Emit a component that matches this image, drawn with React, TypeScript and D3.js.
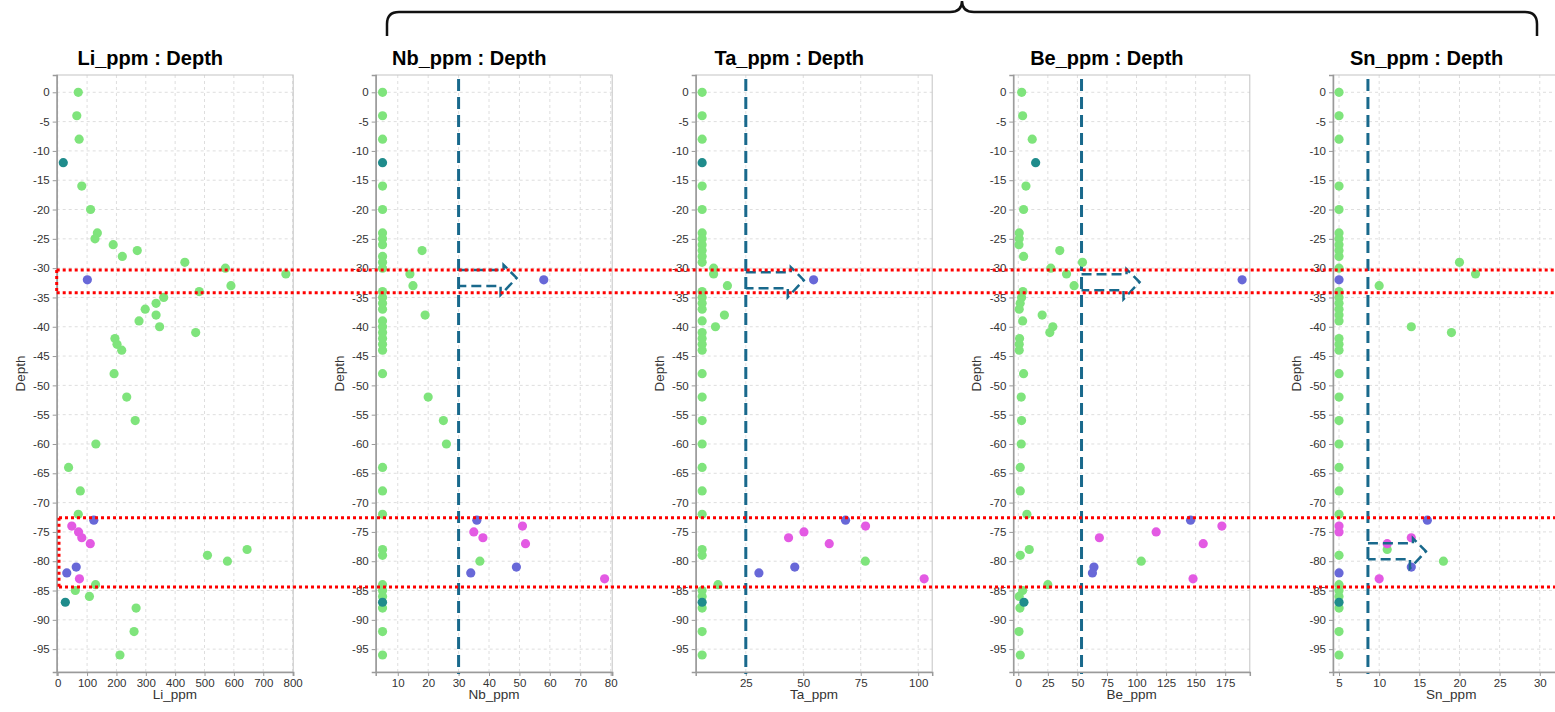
import React, { useRef, useEffect } from "react";
import * as d3 from "d3";

// sample depths, same for every panel
const depths = [
  0, -4, -8, -12, -16, -20, -24, -25, -26, -27, -28, -29, -30, -31, -32, -33,
  -34, -35, -36, -37, -38, -39, -40, -41, -42, -43, -44, -48, -52, -56, -60,
  -64, -68, -72, -73, -74, -75, -76, -77, -78, -79, -80, -81, -82, -83, -84,
  -85, -86, -87, -88, -92, -96,
];

// g = green, t = teal, b = blue, m = magenta
const groups = [
  "g", "g", "g", "t", "g", "g", "g", "g", "g", "g", "g", "g", "g", "g", "b", "g",
  "g", "g", "g", "g", "g", "g", "g", "g", "g", "g", "g", "g", "g", "g", "g",
  "g", "g", "g", "b", "m", "m", "m", "m", "g", "g", "g", "b", "b", "m", "g",
  "g", "g", "t", "g", "g", "g",
];

const liPpm = [
  70, 65, 73, 19, 82, 112, 135, 127, 189, 271, 220, 433, 571, 777, 101, 590,
  482, 361, 335, 298, 335, 277, 347, 470, 195, 202, 218, 192, 235, 264, 130,
  37, 77, 70, 123, 48, 71, 82, 111, 645, 510, 578, 63, 31, 74, 129,
  60, 108, 26, 267, 260, 212,
];
const nbPpm = [
  5, 5, 5, 5, 5, 5, 5, 5, 5, 18, 5, 5, 5, 14, 58, 15,
  5, 5, 5, 5, 19, 5, 5, 5, 5, 5, 5, 5, 20, 25, 26,
  5, 5, 5, 36, 51, 35, 38, 52, 5, 5, 37, 49, 34, 78, 5,
  5, 5, 5, 5, 5, 5,
];
const taPpm = [
  6, 6, 6, 6, 6, 6, 6, 6, 6, 6, 6, 6, 11, 11, 54.5, 17,
  6, 6, 6, 6, 15.7, 6, 11.8, 6, 6, 6, 6, 6, 6, 6, 6,
  6, 6, 6, 68.4, 77.1, 50.3, 43.6, 61.3, 6, 6, 77, 46.3, 30.7, 102.6, 12.9,
  6, 6, 6, 6, 6, 6,
];
const bePpm = [
  2.9, 3.7, 11.8, 14.7, 6.5, 4.5, 0.8, 0.8, 0.6, 35.1, 4.5, 54.3, 27.5, 40.8, 189.3, 47.2,
  3.9, 2.8, 1.6, 0.8, 20.2, 3.7, 29.2, 26.7, 1.1, 0.8, 0.8, 4.5, 2.5, 2.8, 2.5,
  1.7, 1.7, 7.3, 145.7, 172.2, 116.6, 68.6, 156.4, 9.3, 1.7, 104, 64, 62.7, 147.8, 25,
  3.7, 0.8, 4.8, 1.4, 0.6, 1.7,
];
// no Sn reading at -12
const snPpm = [
  5, 5, 5, null, 5, 5, 5, 5, 5, 5, 5, 20, 5, 22, 5, 10,
  5, 5, 5, 5, 5, 5, 14, 19, 5, 5, 5, 5, 5, 5, 5,
  5, 5, 5, 16, 5, 5, 14, 11, 11, 5, 18, 14, 5, 10, 5,
  5, 5, 5, 5, 5, 5,
];

const depthTicks = [0, -5, -10, -15, -20, -25, -30, -35, -40, -45, -50, -55, -60, -65, -70, -75, -80, -85, -90, -95];
const liTicks = [0, 100, 200, 300, 400, 500, 600, 700, 800];
const nbTicks = [10, 20, 30, 40, 50, 60, 70, 80];
const taTicks = [25, 50, 75, 100];
const beTicks = [0, 25, 50, 75, 100, 125, 150, 175];
const snTicks = [5, 10, 15, 20, 25, 30];

// cut-off values (dashed lines) and arrow depths
const thresholds = [null, 30, 25, 53.5, 8.6];
const arrowDepths = [null, -31.67, -32.05, -32.39, -78.32];
// depth bands boxed in red
const bands = [
  [-30.3, -34.2],
  [-72.6, -84.4],
];

const panels = [
  { name: "Li_ppm", values: liPpm, domain: [-3.4, 802], ticks: liTicks },
  { name: "Nb_ppm", values: nbPpm, domain: [2.75, 80.5], ticks: nbTicks },
  { name: "Ta_ppm", values: taPpm, domain: [3.2, 106.1], ticks: taTicks },
  { name: "Be_ppm", values: bePpm, domain: [-4.2, 195.8], ticks: beTicks },
  { name: "Sn_ppm", values: snPpm, domain: [4.25, 33.7], ticks: snTicks },
];

const colors = { g: "#7fe47c", t: "#1f8c8c", b: "#6868d8", m: "#e35ae3" };

const W = 1555;
const H = 712;
const plotTop = 75;
const plotBottom = 672;
const plotW = 236.5;
const panelLeft = [56.7, 375.7, 695.7, 1013.3, 1333];
const font = "'Liberation Sans', Arial, sans-serif";
const darkBlue = "#19698c";

function App() {
  const svgRef = useRef(null);

  useEffect(() => {
    const svg = d3.select(svgRef.current);
    svg.selectAll("*").remove();

    const y = d3.scaleLinear().domain([2.95, -98.9]).range([plotTop, plotBottom]);

    panels.forEach((p, i) => {
      const left = panelLeft[i];
      const x = d3.scaleLinear().domain(p.domain).range([left, left + plotW]);
      const g = svg.append("g");

      // grid
      g.selectAll(".vg")
        .data(p.ticks)
        .join("line")
        .attr("x1", (d) => x(d))
        .attr("x2", (d) => x(d))
        .attr("y1", plotTop)
        .attr("y2", plotBottom)
        .attr("stroke", "#dedede")
        .attr("stroke-dasharray", "3,3");
      g.selectAll(".hg")
        .data(depthTicks)
        .join("line")
        .attr("x1", left)
        .attr("x2", left + plotW)
        .attr("y1", (d) => y(d))
        .attr("y2", (d) => y(d))
        .attr("stroke", "#dedede")
        .attr("stroke-dasharray", "3,3");

      // frame
      g.append("rect")
        .attr("x", left)
        .attr("y", plotTop)
        .attr("width", plotW)
        .attr("height", plotBottom - plotTop)
        .attr("fill", "none")
        .attr("stroke", "#c4c4c4");

      // axes
      const xAxis = g
        .append("g")
        .attr("transform", `translate(0,${plotBottom})`)
        .call(d3.axisBottom(x).tickValues(p.ticks).tickSize(4).tickPadding(3).tickFormat((d) => String(d)));
      const yAxis = g
        .append("g")
        .attr("transform", `translate(${left},0)`)
        .call(d3.axisLeft(y).tickValues(depthTicks).tickSize(4).tickPadding(3).tickFormat((d) => String(d)));
      [xAxis, yAxis].forEach((a) => {
        a.attr("font-family", font).attr("font-size", 11.5);
        a.select(".domain").attr("stroke", "#9a9a9a").attr("stroke-width", 1.5);
        a.selectAll(".tick line").attr("stroke", "#9a9a9a");
        a.selectAll(".tick text").attr("fill", "#333");
      });

      // titles and labels
      g.append("text")
        .attr("x", left + plotW / 2 - 24.7)
        .attr("y", 65)
        .attr("text-anchor", "middle")
        .attr("font-family", font)
        .attr("font-weight", "bold")
        .attr("font-size", 20)
        .attr("fill", "#000")
        .text(`${p.name} : Depth`);
      g.append("text")
        .attr("x", left + plotW / 2)
        .attr("y", 699)
        .attr("text-anchor", "middle")
        .attr("font-family", font)
        .attr("font-size", 13.5)
        .attr("fill", "#333")
        .text(p.name);
      g.append("text")
        .attr("transform", `translate(${left - 32},${(plotTop + plotBottom) / 2}) rotate(-90)`)
        .attr("text-anchor", "middle")
        .attr("font-family", font)
        .attr("font-size", 13.5)
        .attr("fill", "#333")
        .text("Depth");

      // cut-off line
      const t = thresholds[i];
      if (t !== null) {
        g.append("line")
          .attr("x1", x(t))
          .attr("x2", x(t))
          .attr("y1", plotTop + 4)
          .attr("y2", plotBottom + 2)
          .attr("stroke", darkBlue)
          .attr("stroke-width", 3)
          .attr("stroke-dasharray", "12,6");
      }

      // dots, green ones underneath the coloured ones
      const pts = p.values
        .map((v, j) => ({ v, j }))
        .filter((d) => d.v !== null)
        .sort((a, b) => (groups[a.j] === "g" ? 0 : 1) - (groups[b.j] === "g" ? 0 : 1));
      g.selectAll(".dot")
        .data(pts)
        .join("circle")
        .attr("cx", (d) => x(d.v))
        .attr("cy", (d) => y(depths[d.j]))
        .attr("r", 4.6)
        .attr("fill", (d) => colors[groups[d.j]]);

      // arrow pointing to the enriched samples
      const ad = arrowDepths[i];
      if (t !== null && ad !== null) {
        const x0 = x(t);
        const ys = y(ad);
        const outline = [
          [x0, ys - 8],
          [x0 + 45, ys - 8],
          [x0 + 45, ys - 13],
          [x0 + 58, ys],
          [x0 + 42, ys + 17],
          [x0 + 42, ys + 8],
          [x0, ys + 8],
        ];
        g.append("path")
          .attr("d", d3.line()(outline))
          .attr("fill", "none")
          .attr("stroke", darkBlue)
          .attr("stroke-width", 2.5)
          .attr("stroke-dasharray", "10,5");
      }
    });

    // red dotted boxes across all panels
    bands.forEach((b, k) => {
      const bx = panelLeft[0] + k * 2.3;
      b.forEach((d) => {
        svg.append("line")
          .attr("x1", bx)
          .attr("x2", W)
          .attr("y1", y(d))
          .attr("y2", y(d))
          .attr("stroke", "#ff0000")
          .attr("stroke-width", 3)
          .attr("stroke-dasharray", "3,3");
      });
      svg.append("line")
        .attr("x1", bx)
        .attr("x2", bx)
        .attr("y1", y(b[0]))
        .attr("y2", y(b[1]))
        .attr("stroke", "#ff0000")
        .attr("stroke-width", 3)
        .attr("stroke-dasharray", "3,3");
    });

    // brace over the four trace element panels
    svg.append("path")
      .attr("d", "M387,36 L387,24 Q387,12 399,12 L950,12 Q962,12 962,1 Q962,12 974,12 L1525,12 Q1537,12 1537,24 L1537,36")
      .attr("fill", "none")
      .attr("stroke", "#111")
      .attr("stroke-width", 2.5);
  }, []);

  return (
    <svg
      ref={svgRef}
      width={W}
      height={H}
      style={{ position: "absolute", left: 0, top: 0, background: "#fff" }}
    ></svg>
  );
}

export default App;
